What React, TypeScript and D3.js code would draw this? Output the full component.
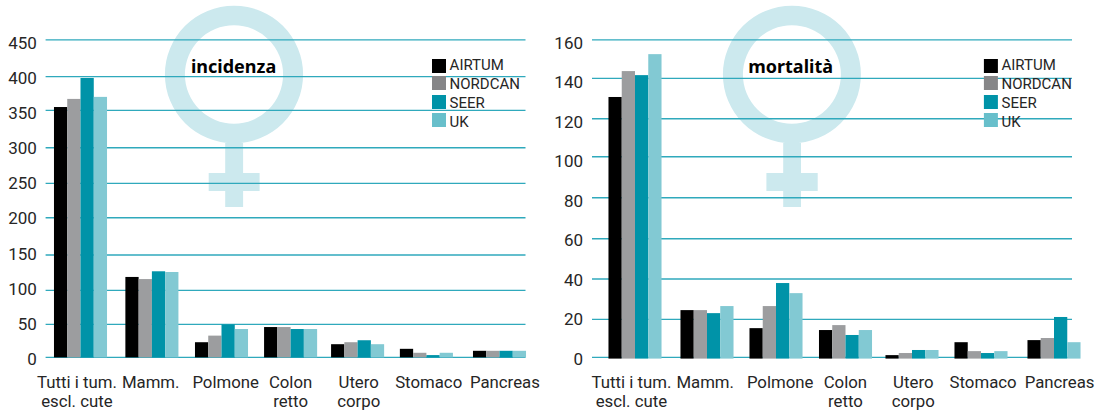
import React from "react";
import * as d3 from "d3";

const categories = [["Tutti i tum.", "escl. cute"], ["Mamm."], ["Polmone"], ["Colon", "retto"], ["Utero", "corpo"], ["Stomaco"], ["Pancreas"]];
const seriesNames = ["AIRTUM", "NORDCAN", "SEER", "UK"];
const barColors = ["#000000", "#9c9d9f", "#0093a8", "#82c9d3"];
const legendColors = ["#000000", "#868688", "#0093a8", "#68bfcb"];

const incidenzaTicks = [0, 50, 100, 150, 200, 250, 300, 350, 400, 450];
const mortalitaTicks = [0, 20, 40, 60, 80, 100, 120, 140, 160];

const incidenzaAirtum = [355, 119, 23, 46, 20, 13, 10];
const incidenzaNordcan = [367, 116, 33, 46, 23, 7, 10];
const incidenzaSeer = [398, 127, 50, 43, 26, 3.5, 10];
const incidenzaUk = [370, 126, 43, 43, 20, 7, 10];

const mortalitaAirtum = [130.8, 24.6, 15.4, 14.4, 1.2, 8, 9.1];
const mortalitaNordcan = [143.8, 24.6, 26.6, 17, 2.3, 3.3, 10.2];
const mortalitaSeer = [141.7, 23.1, 38, 11.8, 3.9, 2.3, 21.2];
const mortalitaUk = [152.6, 26.6, 33, 14.4, 3.9, 3.3, 8];

const FONT = "Roboto, 'Noto Sans', sans-serif";
const TEXT = "#262626";

type Panel = {
  title: string;
  series: number[][];
  ticks: number[];
  gridY: number[];
  gridX: [number, number];
  band: [number, number];
  tickX: number;
  labelNudge: number[];
  groupNudge: number[];
  barFoot: number;
  legendX: number;
  legendTextX: number;
  ring: { cx: number; cy: number; rx: number; ry: number; irx: number; iry: number };
  stem: [number, number];
  cross: [number, number];
  titleX: number;
};

const panels: Panel[] = [
  {
    title: "incidenza",
    series: [incidenzaAirtum, incidenzaNordcan, incidenzaSeer, incidenzaUk],
    ticks: incidenzaTicks,
    gridY: [357.4, 324.4, 290.4, 255, 217.7, 183.4, 147.7, 110.4, 76.6, 39.9],
    gridX: [45.6, 525.5],
    band: [45.6, 534.2],
    tickX: 36.8,
    labelNudge: [-3.6, 0.4, 5.6, 0.7, -1, -0.8, 5.6],
    groupNudge: [0, 1.6, 1.4, 0.7, -2.1, -3.1, 0.2],
    barFoot: 0,
    legendX: 432,
    legendTextX: 449.6,
    ring: { cx: 234, cy: 74.5, rx: 69.1, ry: 68.8, irx: 49.1, iry: 49.2 },
    stem: [225.2, 243.1],
    cross: [208.7, 259.6],
    titleX: 233.6,
  },
  {
    title: "mortalità",
    series: [mortalitaAirtum, mortalitaNordcan, mortalitaSeer, mortalitaUk],
    ticks: mortalitaTicks,
    gridY: [357.4, 319.4, 279, 238.7, 197.7, 156.7, 118.8, 78.4, 39.9],
    gridX: [592, 1072],
    band: [600.1, 1088.7],
    tickX: 583,
    labelNudge: [-3.6, 0.4, 5.6, 1, -0.9, -0.9, 5.8],
    groupNudge: [0, 2.2, 1.4, 1.1, -2.2, -3, 0.2],
    barFoot: 1.2,
    legendX: 983.9,
    legendTextX: 1001.5,
    ring: { cx: 791.9, cy: 74.5, rx: 69, ry: 68.8, irx: 49, iry: 49.2 },
    stem: [783.2, 801],
    cross: [766.4, 817.7],
    titleX: 790.6,
  },
];

const legendY = [59, 76, 95, 113];
const legendBaseline = [70.3, 89, 108, 126.5];

function ChartPanel({ p }: { p: Panel }) {
  const y = d3.scaleLinear().domain(p.ticks).range(p.gridY);
  const labelY = d3
    .scaleLinear()
    .domain([0, p.ticks[p.ticks.length - 1]])
    .range([359, 42.7]);
  const idx = categories.map((_, i) => i);
  const x0 = d3.scaleBand<number>().domain(idx).range(p.band).paddingInner(0.24).paddingOuter(0.12);
  const x1 = d3.scaleBand<number>().domain(seriesNames.map((_, i) => i)).range([0, x0.bandwidth()]);
  const { cx, cy, rx, ry, irx, iry } = p.ring;
  const ringPath =
    `M${cx - rx},${cy}a${rx},${ry} 0 1,0 ${2 * rx},0a${rx},${ry} 0 1,0 ${-2 * rx},0Z` +
    `M${cx - irx},${cy}a${irx},${iry} 0 1,1 ${2 * irx},0a${irx},${iry} 0 1,1 ${-2 * irx},0Z`;
  const sym = "#cce9ee";
  return (
    <g>
      <path d={ringPath} fill={sym} fillRule="evenodd" />
      <rect x={p.stem[0]} y={143} width={p.stem[1] - p.stem[0]} height={64} fill={sym} />
      <rect x={p.cross[0]} y={173} width={p.cross[1] - p.cross[0]} height={18} fill={sym} />
      {p.ticks.map((t) => (
        <line key={t} x1={p.gridX[0]} x2={p.gridX[1]} y1={y(t)} y2={y(t)} stroke="#2fa9bc" strokeWidth={1.4} />
      ))}
      {p.ticks.map((t) => (
        <text key={t} x={p.tickX} y={labelY(t)} dy="0.35em" textAnchor="end" fontSize={17} fill={TEXT} fontFamily={FONT}>
          {t}
        </text>
      ))}
      {p.series.map((vals, s) =>
        vals.map((v, i) => (
          <rect
            key={`${s}-${i}`}
            x={(x0(i) as number) + p.groupNudge[i] + (x1(s) as number)}
            y={y(v)}
            width={x1.bandwidth()}
            height={y(0) - y(v) + p.barFoot}
            fill={barColors[s]}
          />
        ))
      )}
      {categories.map((lines, i) => (
        <text key={i} textAnchor="middle" fontSize={16.8} fill={TEXT} fontFamily={FONT}>
          {lines.map((l, k) => (
            <tspan key={k} x={(x0(i) as number) + x0.bandwidth() / 2 + p.labelNudge[i]} y={388 + k * 19}>
              {l}
            </tspan>
          ))}
        </text>
      ))}
      <text x={p.titleX} y={73} textAnchor="middle" fontSize={18} fontWeight={700} fill="#000" fontFamily="'Noto Sans', sans-serif">
        {p.title}
      </text>
      {seriesNames.map((n, s) => (
        <g key={n}>
          <rect x={p.legendX} y={legendY[s]} width={14} height={14} fill={legendColors[s]} />
          <text x={p.legendTextX} y={legendBaseline[s]} fontSize={15} fill={TEXT} fontFamily={FONT}>
            {n}
          </text>
        </g>
      ))}
    </g>
  );
}

export default function App() {
  return (
    <svg
      width={1109}
      height={417}
      viewBox="0 0 1109 417"
      style={{ position: "absolute", left: 0, top: 0, background: "#fff" }}
    >
      {panels.map((p) => (
        <ChartPanel key={p.title} p={p} />
      ))}
    </svg>
  );
}
